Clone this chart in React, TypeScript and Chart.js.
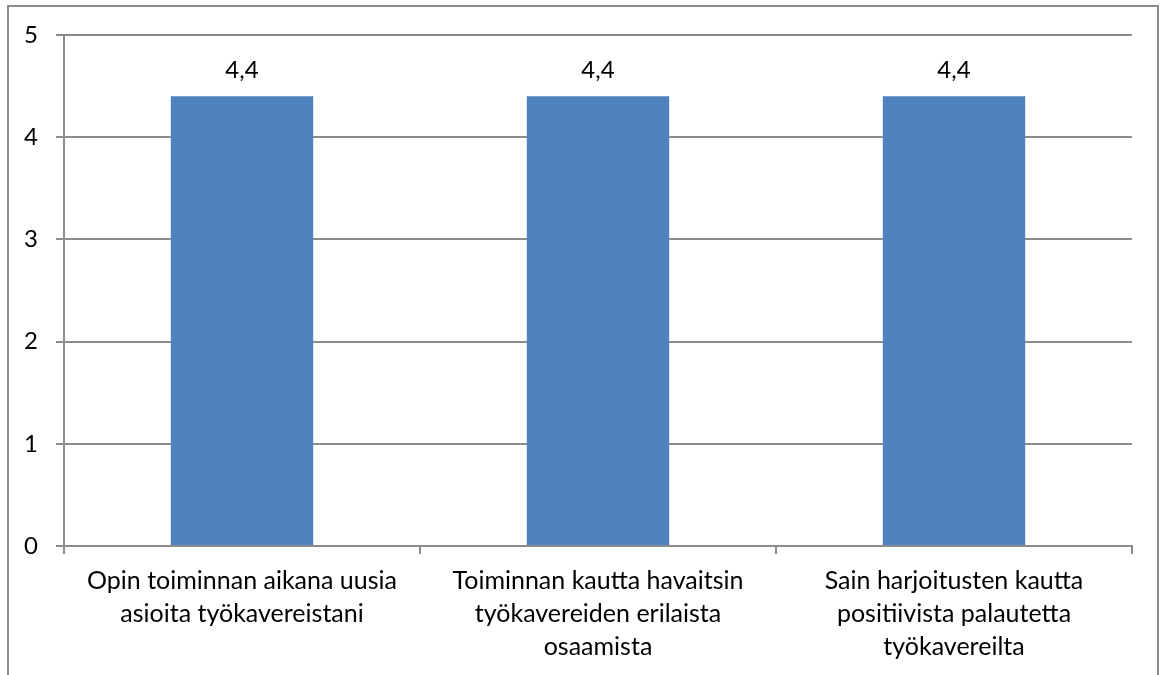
import React, { useEffect, useRef } from "react";
import { Chart, registerables } from "chart.js";

Chart.register(...registerables);

const categories: string[][] = [
  ["Opin toiminnan aikana uusia", "asioita työkavereistani"],
  ["Toiminnan kautta havaitsin", "työkavereiden erilaista", "osaamista"],
  ["Sain harjoitusten kautta", "positiivista palautetta", "työkavereilta"],
];
const values: number[] = [4.4, 4.4, 4.4];
const yTicks: number[] = [0, 1, 2, 3, 4, 5];

const FONT = "Lato";
const GRID = "#8c8c8c";

const valueLabels = {
  id: "valueLabels",
  afterDatasetsDraw(chart: any) {
    const ctx = chart.ctx;
    const meta = chart.getDatasetMeta(0);
    ctx.save();
    ctx.font = `24px ${FONT}`;
    ctx.fillStyle = "#000";
    ctx.textAlign = "center";
    ctx.textBaseline = "alphabetic";
    meta.data.forEach((bar: any, i: number) => {
      const txt = values[i].toFixed(1).replace(".", ",");
      ctx.fillText(txt, bar.x, bar.y - 18);
    });
    ctx.restore();
  },
};

export default function App() {
  const ref = useRef<HTMLCanvasElement>(null);
  useEffect(() => {
    document.body.style.margin = "0";
    const chart = new Chart(ref.current!, {
      type: "bar",
      data: {
        labels: categories,
        datasets: [
          {
            data: values,
            backgroundColor: "#4F81BD",
            barPercentage: 0.4,
            categoryPercentage: 1,
          },
        ],
      },
      options: {
        animation: false,
        responsive: false,
        devicePixelRatio: 1,
        layout: { padding: { top: 35, right: 32, left: 0, bottom: 0 } },
        plugins: { legend: { display: false }, tooltip: { enabled: false } },
        scales: {
          x: {
            offset: true,
            grid: {
              offset: true,
              drawOnChartArea: false,
              drawTicks: true,
              tickLength: 8,
              color: GRID,
              lineWidth: 2,
            },
            border: { color: GRID, width: 2 },
            ticks: {
              color: "#000",
              font: { family: FONT, size: 25, lineHeight: 1.32 },
              padding: 10,
              maxRotation: 0,
              autoSkip: false,
            },
            afterFit(scale: any) {
              scale.height = 129;
            },
          },
          y: {
            min: 0,
            max: 5,
            afterBuildTicks(scale: any) {
              scale.ticks = yTicks.map((v) => ({ value: v }));
            },
            grid: { color: GRID, lineWidth: 2, tickLength: 8 },
            border: { color: GRID, width: 2 },
            ticks: {
              color: "#000",
              font: { family: FONT, size: 24 },
              padding: 18,
            },
            afterFit(scale: any) {
              scale.width = 64;
            },
          },
        },
      },
      plugins: [valueLabels],
    });
    return () => chart.destroy();
  }, []);
  return (
    <div style={{ position: "fixed", left: 0, top: 0, width: 1164, height: 675, overflow: "hidden", background: "#fff" }}>
      <canvas ref={ref} width={1164} height={675} style={{ position: "absolute", left: 0, top: 0 }} />
      <div
        style={{
          position: "absolute",
          left: 7,
          top: 5,
          width: 1152,
          height: 720,
          border: "2px solid #8c8c8c",
          boxSizing: "border-box",
          pointerEvents: "none",
        }}
      />
    </div>
  );
}
